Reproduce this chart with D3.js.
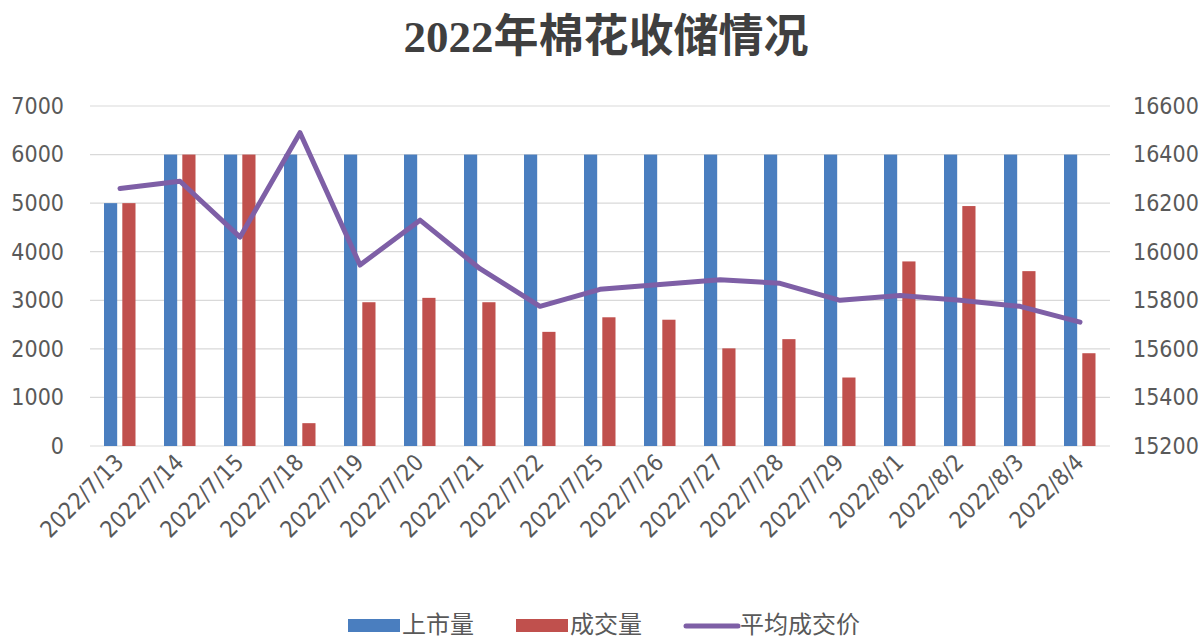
<!DOCTYPE html>
<html>
<head>
<meta charset="utf-8">
<script src="https://cdn.jsdelivr.net/npm/d3@7"></script>
<style>
  html, body { margin: 0; padding: 0; background: #fff; }
  svg { display: block; }
</style>
</head>
<body>
<svg id="chart" width="1204" height="640"></svg>
<script>
const categories = ["2022/7/13","2022/7/14","2022/7/15","2022/7/18","2022/7/19","2022/7/20","2022/7/21","2022/7/22","2022/7/25","2022/7/26","2022/7/27","2022/7/28","2022/7/29","2022/8/1","2022/8/2","2022/8/3","2022/8/4"];
const listed = [5000,6000,6000,6000,6000,6000,6000,6000,6000,6000,6000,6000,6000,6000,6000,6000,6000];
const traded = [5000,6000,6000,470,2960,3050,2960,2350,2650,2600,2010,2200,1410,3800,4940,3600,1910];
const avgPrice = [16260,16290,16060,16490,15945,16130,15930,15775,15845,15865,15885,15870,15800,15820,15800,15775,15710];
const leftTicks = [0,1000,2000,3000,4000,5000,6000,7000];
const rightTicks = [15200,15400,15600,15800,16000,16200,16400,16600];
const seriesNames = ["上市量","成交量","平均成交价"];
const title = "2022年棉花收储情况";

const colors = { listed: "#4a7ebf", traded: "#c0504d", line: "#7e5fa6" };
const tickFont = "'Liberation Sans Narrow', 'Arial Narrow', 'DejaVu Sans Condensed', sans-serif";
const cjkFont = "'Noto Sans CJK SC', sans-serif";

const svg = d3.select("#chart");
const plot = { left: 90, right: 1110, top: 106, bottom: 446 };

const x = d3.scaleBand().domain(categories).range([plot.left, plot.right]).paddingInner(0).paddingOuter(0);
const x1 = d3.scaleBand().domain(["listed","traded"]).range([-16, 15.5]).paddingInner(0.28);
const yL = d3.scaleLinear().domain([0, 7000]).range([plot.bottom, plot.top]);
const yR = d3.scaleLinear().domain([15200, 16600]).range([plot.bottom, plot.top]);

// Title
svg.append("text")
  .attr("x", 606).attr("y", 52)
  .attr("text-anchor", "middle")
  .style("font-family", "'Liberation Serif', 'Noto Sans CJK SC', serif")
  .style("font-size", "45px")
  .style("font-weight", "bold")
  .style("fill", "#3f3f3f")
  .text(title);

// Gridlines
svg.append("g").selectAll("line").data(leftTicks).join("line")
  .attr("x1", plot.left).attr("x2", plot.right)
  .attr("y1", d => yL(d)).attr("y2", d => yL(d))
  .attr("stroke", "#d9d9d9").attr("stroke-width", 1.2);

// Left axis
const leftAxis = d3.axisLeft(yL).tickValues(leftTicks).tickSize(0).tickPadding(0).tickFormat(d3.format("d"));
const gl = svg.append("g").attr("transform", `translate(64,0)`).call(leftAxis);
gl.select(".domain").remove();
gl.selectAll("text").style("font-family", tickFont).style("font-size", "23px").style("fill", "#595959");

// Right axis
const rightAxis = d3.axisRight(yR).tickValues(rightTicks).tickSize(0).tickPadding(0).tickFormat(d3.format("d"));
const gr = svg.append("g").attr("transform", `translate(1133,0)`).call(rightAxis);
gr.select(".domain").remove();
gr.selectAll("text").style("font-family", tickFont).style("font-size", "23px").style("fill", "#595959");

// Bars
const barG = svg.append("g");
barG.selectAll("rect.listed").data(categories).join("rect")
  .attr("class", "listed")
  .attr("x", (d) => x(d) + x.bandwidth()/2 + x1("listed"))
  .attr("width", x1.bandwidth())
  .attr("y", (d, i) => yL(listed[i]))
  .attr("height", (d, i) => yL(0) - yL(listed[i]))
  .attr("fill", colors.listed);
barG.selectAll("rect.traded").data(categories).join("rect")
  .attr("class", "traded")
  .attr("x", (d) => x(d) + x.bandwidth()/2 + x1("traded"))
  .attr("width", x1.bandwidth())
  .attr("y", (d, i) => yL(traded[i]))
  .attr("height", (d, i) => yL(0) - yL(traded[i]))
  .attr("fill", colors.traded);

// Line
const line = d3.line()
  .x((d, i) => x(categories[i]) + x.bandwidth()/2)
  .y(d => yR(d));
svg.append("path").datum(avgPrice)
  .attr("d", line)
  .attr("fill", "none")
  .attr("stroke", colors.line)
  .attr("stroke-width", 5)
  .attr("stroke-linejoin", "round")
  .attr("stroke-linecap", "round");

// X axis labels
const xAxis = d3.axisBottom(x).tickSize(0).tickPadding(0);
const gx = svg.append("g").attr("transform", `translate(0,${plot.bottom})`).call(xAxis);
gx.select(".domain").remove();
gx.selectAll(".tick text")
  .attr("text-anchor", "end")
  .attr("dy", 0)
  .attr("transform", "translate(5,18) rotate(-45)")
  .style("font-family", tickFont)
  .style("font-size", "23px")
  .style("fill", "#595959");

// Legend
const legend = svg.append("g");
const legendItems = [
  { name: seriesNames[0], type: "rect", color: colors.listed, sx: 348, tx: 402 },
  { name: seriesNames[1], type: "rect", color: colors.traded, sx: 516, tx: 570 },
  { name: seriesNames[2], type: "line", color: colors.line, sx: 686, tx: 740 }
];
legendItems.forEach(it => {
  if (it.type === "rect") {
    legend.append("rect").attr("x", it.sx).attr("y", 619).attr("width", 52).attr("height", 13).attr("fill", it.color);
  } else {
    legend.append("line").attr("x1", it.sx).attr("x2", it.sx + 52).attr("y1", 626).attr("y2", 626)
      .attr("stroke", it.color).attr("stroke-width", 5).attr("stroke-linecap", "round");
  }
  legend.append("text").attr("x", it.tx).attr("y", 633)
    .style("font-family", cjkFont).style("font-size", "24px").style("fill", "#595959")
    .text(it.name);
});
</script>
</body>
</html>
